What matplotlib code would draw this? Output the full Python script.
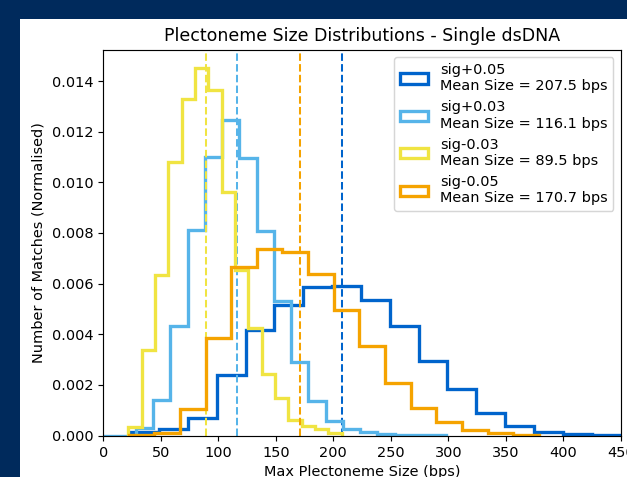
import matplotlib
matplotlib.use("Agg")
import matplotlib.pyplot as plt
from matplotlib.patches import Rectangle

# normalised histogram heights (x1e-3)
edges_p05 = [23.3, 48.4, 73.5, 98.6, 123.7, 148.8, 173.8, 198.9, 224.0, 249.1,
             274.2, 299.3, 324.4, 349.5, 374.6, 399.7, 424.8, 449.8]
dens_p05 = [0.15, 0.25, 0.68, 2.40, 4.18, 5.17, 5.85, 5.92, 5.36, 4.31,
            2.95, 1.83, 0.91, 0.38, 0.13, 0.06, 0.03]

edges_p03 = [-1.7, 13.3, 28.3, 43.3, 58.3, 73.3, 88.3, 103.3, 118.3, 133.3, 148.3,
             163.3, 178.3, 193.3, 208.3, 223.3, 238.3, 253.3, 268.3, 283.3, 298.3]
dens_p03 = [0.0, 0.0, 0.29, 1.41, 4.34, 8.13, 11.01, 12.46, 10.97, 8.07, 5.30,
            2.92, 1.38, 0.59, 0.25, 0.13, 0.05, 0.03, 0.02, 0.02]

edges_m03 = [21.7, 33.3, 44.9, 56.5, 68.1, 79.7, 91.3, 102.9, 114.5, 126.1,
             137.7, 149.3, 160.9, 172.5, 184.1, 195.7, 207.3]
dens_m03 = [0.33, 3.39, 6.35, 10.81, 13.31, 14.50, 13.64, 9.61, 6.55, 4.24,
            2.44, 1.47, 0.60, 0.38, 0.25, 0.12]

edges_m05 = [22.1, 44.4, 66.7, 89.0, 111.3, 133.6, 155.8, 178.1, 200.4, 222.7,
             245.0, 267.3, 289.6, 311.9, 334.2, 356.5, 378.7]
dens_m05 = [0.03, 0.12, 1.04, 3.85, 6.66, 7.37, 7.25, 6.39, 4.97, 3.52,
            2.07, 1.10, 0.52, 0.22, 0.09, 0.04]

names = ["sig+0.05", "sig+0.03", "sig-0.03", "sig-0.05"]
means = [207.5, 116.1, 89.5, 170.7]
all_edges = [edges_p05, edges_p03, edges_m03, edges_m05]
all_dens = [dens_p05, dens_p03, dens_m03, dens_m05]
colors = ["#0064cc", "#56b4e9", "#f0e442", "#f5a300"]

# the plot sits slightly enlarged on a slide, so render at 104 dpi
DPI = 104
fig = plt.figure(figsize=(627 / DPI, 477 / DPI), dpi=DPI)
fig.patch.set_facecolor("#002a5c")
# white slide panel behind the figure
fig.patches.append(Rectangle((20 / 627, 0), 1, 1 - 19 / 477, transform=fig.transFigure,
                             facecolor="white", edgecolor="none", zorder=-1))

ax = fig.add_axes([103.3 / 627, 1 - 435.6 / 477, (620.7 - 103.3) / 627, (435.6 - 50) / 477])
ax.set_zorder(2)

for name, m, e, d, c in zip(names, means, all_edges, all_dens, colors):
    w = [v * 1e-3 for v in d]
    ax.hist(e[:-1], bins=e, weights=w, histtype="step", lw=2.3, color=c,
            label=name + "\nMean Size = %.1f bps" % m)
    ax.axvline(m, color=c, ls="--", lw=1.4)

ax.set_xlim(0, 450)
ax.set_ylim(bottom=0)
ax.set_xlabel("Max Plectoneme Size (bps)", fontsize=10)
ax.set_ylabel("Number of Matches (Normalised)", fontsize=10)
ax.set_title("Plectoneme Size Distributions - Single dsDNA", fontsize=12)
ax.legend(loc="upper right", fontsize=10)

plt.savefig("out.png", dpi=DPI, facecolor=fig.get_facecolor())
